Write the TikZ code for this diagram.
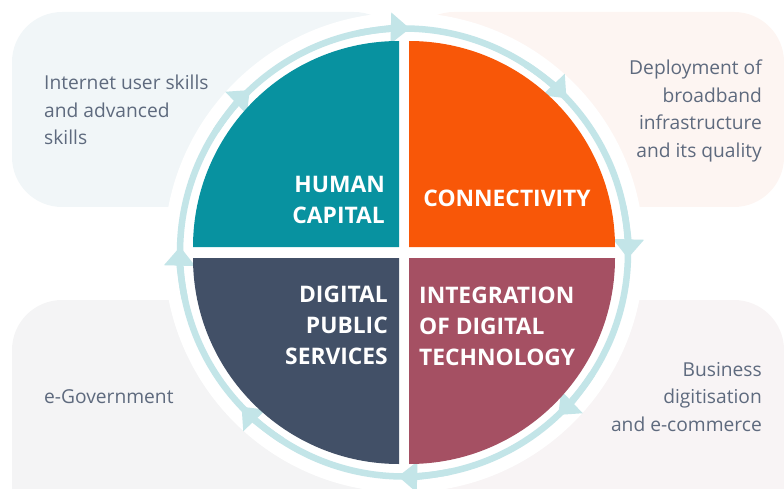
\documentclass[tikz,border=0pt]{standalone}
\usepackage{fontspec}
\setmainfont{Open Sans}
\usepackage{tikz}
\usetikzlibrary{arrows.meta,calc}

\definecolor{humancol}{HTML}{0892A0}
\definecolor{connectcol}{HTML}{F85708}
\definecolor{publiccol}{HTML}{425067}
\definecolor{integcol}{HTML}{A55063}
\definecolor{ringcol}{HTML}{C3E5E8}
\definecolor{labelcol}{HTML}{5E6A7E}
\definecolor{backtl}{HTML}{F1F6F8}
\definecolor{backtr}{HTML}{FDF5F2}
\definecolor{backbl}{HTML}{F4F4F5}
\definecolor{backbr}{HTML}{F8F4F5}

\tikzset{
  note/.style={inner sep=0pt, text=labelcol, font=\fontsize{19.2}{27.5}\selectfont},
  areatitle/.style={inner sep=0pt, text=white, font=\bfseries\fontsize{22.8}{31}\selectfont},
  ring/.style={draw=ringcol, line width=6.5pt}
}

\begin{document}
\begin{tikzpicture}[x=1pt,y=1pt]
\useasboundingbox (0,0) rectangle (784,488);
\coordinate (C) at (404,235.5);

% background boxes
\fill[backtl, rounded corners=50] (12,281) rectangle (404,476);
\fill[backtr, rounded corners=50] (404,281) rectangle (784,476);
\fill[backbl, rounded corners=50] (12,-60) rectangle (404,188);
\fill[backbr, rounded corners=50] (404,-60) rectangle (784,188);
\fill[white] (C) circle (240);

% cycle ring
\draw[ring] (C) circle (224);
\foreach \a in {90,45,...,-225}
    \draw[ring,-{Triangle[length=19pt,width=30pt]}] ($(C)+(\a+12:224)$) arc[start angle=\a+12, end angle=\a-1.5, radius=224];

% quarters
\fill[humancol] (399,241) -- ++(-206,0) arc[start angle=180, end angle=90, radius=206] -- cycle;
\fill[connectcol] (409,241) -- ++(0,206) arc[start angle=90, end angle=0, radius=206] -- cycle;
\fill[integcol] (409,230) -- ++(206,0) arc[start angle=0, end angle=-90, radius=206] -- cycle;
\fill[publiccol] (399,230) -- ++(0,-206) arc[start angle=270, end angle=180, radius=206] -- cycle;

\node[areatitle, anchor=east, align=right] (human) at (385,288.5) {HUMAN\\CAPITAL};
\node[areatitle] (connect) at (507,289.5) {CONNECTIVITY};
\node[areatitle, anchor=east, align=right] (public) at (388,162.5) {DIGITAL\\PUBLIC\\SERVICES};
\node[areatitle, anchor=west, align=left] (integ) at (419,162) {INTEGRATION\\OF DIGITAL\\TECHNOLOGY};

% side notes
\node[note, anchor=west, align=left] (skills) at (44,378) {Internet user skills\\and advanced\\skills};
\node[note, anchor=east, align=right] (broadband) at (762,377) {Deployment of\\broadband\\infrastructure\\and its quality};
\node[note, anchor=west] (egov) at (44,91) {e-Government};
\node[note, anchor=east, align=right] (business) at (762,91) {Business\\digitisation\\and e-commerce};
\end{tikzpicture}
\end{document}
